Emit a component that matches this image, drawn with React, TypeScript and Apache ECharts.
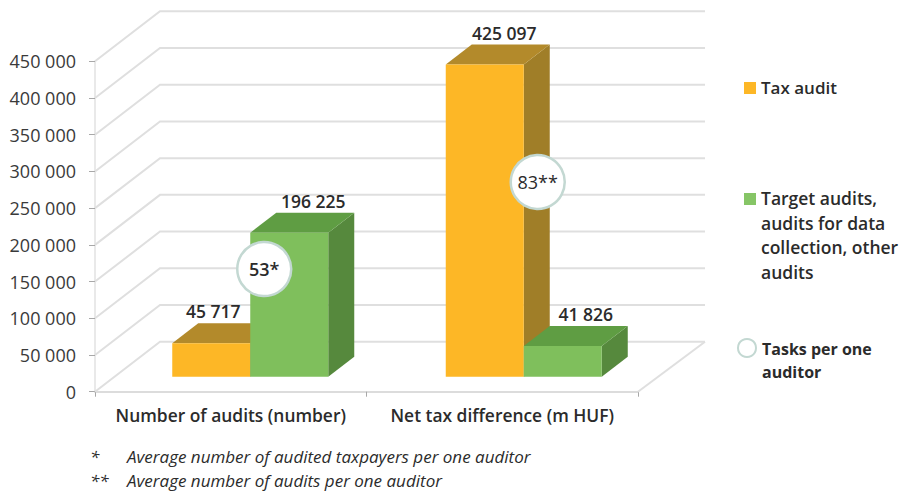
import React, { useEffect, useRef } from "react";
import * as echarts from "echarts";

const categories = ["Number of audits (number)", "Net tax difference (m HUF)"];
const taxAudit = [45717, 425097];
const targetAudits = [196225, 41826];
const tasksLabels = ["53*", "83**"];
const tasksAnchors = [167000, 285600];
const gridTicks = [0, 50000, 100000, 150000, 200000, 250000, 300000, 350000, 400000, 450000];
const legendTax = "Tax audit";
const legendTarget = ["Target audits,", "audits for data", "collection, other", "audits"];
const legendTasks = ["Tasks per one", "auditor"];
const footnotes = [
  ["*", "Average number of audited taxpayers per one auditor"],
  ["**", "Average number of audits per one auditor"],
];

const FONT = "'Open Sans', sans-serif";
const DARK = "#2b2b2b";
const WALL = { dx: 65, dy: -50 };
const FLOOR = { dx: 19.5, dy: -15 };
const DEPTH = { dx: 26, dy: -20 };
const BAR_W = 78;
const catShift = [0, 2];
const labelShift = [
  [2, 24],
  [19.5, 23],
];

const fmt = (v: number) => String(v).replace(/\B(?=(\d{3})+(?!\d))/g, " ");

function barSeries(name: string, values: number[], side: number, front: string, top: string, right: string) {
  return {
    type: "custom",
    name,
    clip: false,
    z: 3 + side,
    encode: { x: 0, y: 1 },
    data: values.map((v, i) => [i, v]),
    renderItem: (_p: any, api: any) => {
      const i = api.value(0);
      const v = api.value(1);
      const base = api.coord([i, 0]);
      const head = api.coord([i, v]);
      const x0 = base[0] + catShift[i] + FLOOR.dx - BAR_W + side * BAR_W;
      const x1 = x0 + BAR_W;
      const y0 = base[1] + FLOOR.dy;
      const y1 = head[1] + FLOOR.dy;
      const d = DEPTH;
      return {
        type: "group",
        children: [
          { type: "polygon", shape: { points: [[x1, y1], [x1 + d.dx, y1 + d.dy], [x1 + d.dx, y0 + d.dy], [x1, y0]] }, style: { fill: right } },
          { type: "polygon", shape: { points: [[x0, y1], [x0 + d.dx, y1 + d.dy], [x1 + d.dx, y1 + d.dy], [x1, y1]] }, style: { fill: top } },
          { type: "rect", shape: { x: x0, y: y1, width: BAR_W, height: y0 - y1 }, style: { fill: front } },
          {
            type: "text",
            style: {
              x: (x0 + x1) / 2 + labelShift[i][side],
              y: y1 - 32,
              text: fmt(v),
              fill: DARK,
              font: `600 17.5px ${FONT}`,
              align: "center",
              verticalAlign: "middle",
            },
          },
        ],
      };
    },
  };
}

export default function App() {
  const ref = useRef<HTMLDivElement>(null);
  useEffect(() => {
    document.body.style.margin = "0";
    const chart = echarts.init(ref.current!, undefined, { renderer: "svg" });
    const txt = (x: number, y: number, text: string, size: number, weight = 400, style = "normal") => ({
      type: "text",
      x,
      y,
      style: { text, fill: DARK, font: `${style} ${weight} ${size}px ${FONT}`, verticalAlign: "middle" },
    });
    chart.setOption({
      animation: false,
      backgroundColor: "#fff",
      grid: { left: 95, right: 261, top: 61.3, bottom: 99.3 },
      xAxis: {
        type: "category",
        data: categories,
        axisLine: { lineStyle: { color: "#dcdcdc", width: 2 } },
        axisTick: { show: true, length: 5, lineStyle: { color: "#a8a8a8" } },
        axisLabel: { color: DARK, fontFamily: FONT, fontSize: 17.4, fontWeight: 600, margin: 15, interval: 0, hideOverlap: false },
      },
      yAxis: {
        type: "value",
        min: 0,
        max: 450000,
        interval: 50000,
        splitLine: { show: false },
        axisLine: { show: true, lineStyle: { color: "#e2e2e2", width: 1.5 } },
        axisTick: { show: true, length: 6, lineStyle: { color: "#a8a8a8" } },
        axisLabel: {
          color: "#3a3a3a",
          fontFamily: FONT,
          fontSize: 18,
          margin: 19,
          formatter: (v: number) => fmt(v),
        },
      },
      series: [
        {
          type: "custom",
          name: "walls",
          clip: false,
          z: 1,
          silent: true,
          encode: { y: 0 },
          data: gridTicks.map((t) => [t]),
          renderItem: (p: any, api: any) => {
            const c = p.coordSys;
            const y = api.coord([0, api.value(0)])[1];
            const xR = c.x + c.width + WALL.dx + 2;
            const children: any[] = [
              {
                type: "polyline",
                shape: { points: [[c.x, y], [c.x + WALL.dx, y + WALL.dy], [xR, y + WALL.dy]] },
                style: { stroke: "#dfdfdf", lineWidth: 2, fill: "none" },
              },
            ];
            if (api.value(0) === 0) {
              children.push({
                type: "line",
                shape: { x1: c.x + c.width, y1: y, x2: xR, y2: y + WALL.dy },
                style: { stroke: "#dfdfdf", lineWidth: 2 },
              });
            }
            return { type: "group", children };
          },
        },
        barSeries("Tax audit", taxAudit, 0, "#fdb726", "#b38a2b", "#a07e28"),
        barSeries("Target audits", targetAudits, 1, "#7fbf5c", "#5f9d43", "#56893d"),
        {
          type: "custom",
          name: "Tasks per one auditor",
          clip: false,
          z: 6,
          encode: { x: 0, y: 1 },
          data: tasksAnchors.map((v, i) => [i, v]),
          renderItem: (_p: any, api: any) => {
            const i = api.value(0);
            const pt = api.coord([i, api.value(1)]);
            const cx = pt[0] + 33.5 + catShift[i];
            return {
              type: "group",
              children: [
                { type: "circle", shape: { cx, cy: pt[1], r: 27 }, style: { fill: "#fff", stroke: "#c3d8d2", lineWidth: 2.5 } },
                {
                  type: "text",
                  style: {
                    x: cx,
                    y: pt[1],
                    text: tasksLabels[i],
                    fill: DARK,
                    font: `${i === 0 ? 600 : 400} 18px ${FONT}`,
                    align: "center",
                    verticalAlign: "middle",
                  },
                },
              ],
            };
          },
        },
      ],
      graphic: [
        { type: "rect", shape: { x: 744, y: 82, width: 12, height: 12 }, style: { fill: "#fdb726" } },
        txt(761, 87, legendTax, 17, 600),
        { type: "rect", shape: { x: 744, y: 193, width: 12, height: 12 }, style: { fill: "#86c566" } },
        ...legendTarget.map((t, i) => txt(761, 198 + i * 24.5, t, 17.5, 600)),
        { type: "circle", shape: { cx: 747, cy: 348, r: 9 }, style: { fill: "#fff", stroke: "#c3d8d2", lineWidth: 2 } },
        ...legendTasks.map((t, i) => txt(762, 349 + i * 22.5, t, 16, 700)),
        ...footnotes.flatMap(([m, t], i) => [
          txt(90, 456 + i * 24, m, 17, 400, "italic"),
          txt(127, 456 + i * 24, t, 17, 400, "italic"),
        ]),
      ],
    });
    return () => chart.dispose();
  }, []);
  return <div ref={ref} style={{ width: 899, height: 491 }} />;
}
